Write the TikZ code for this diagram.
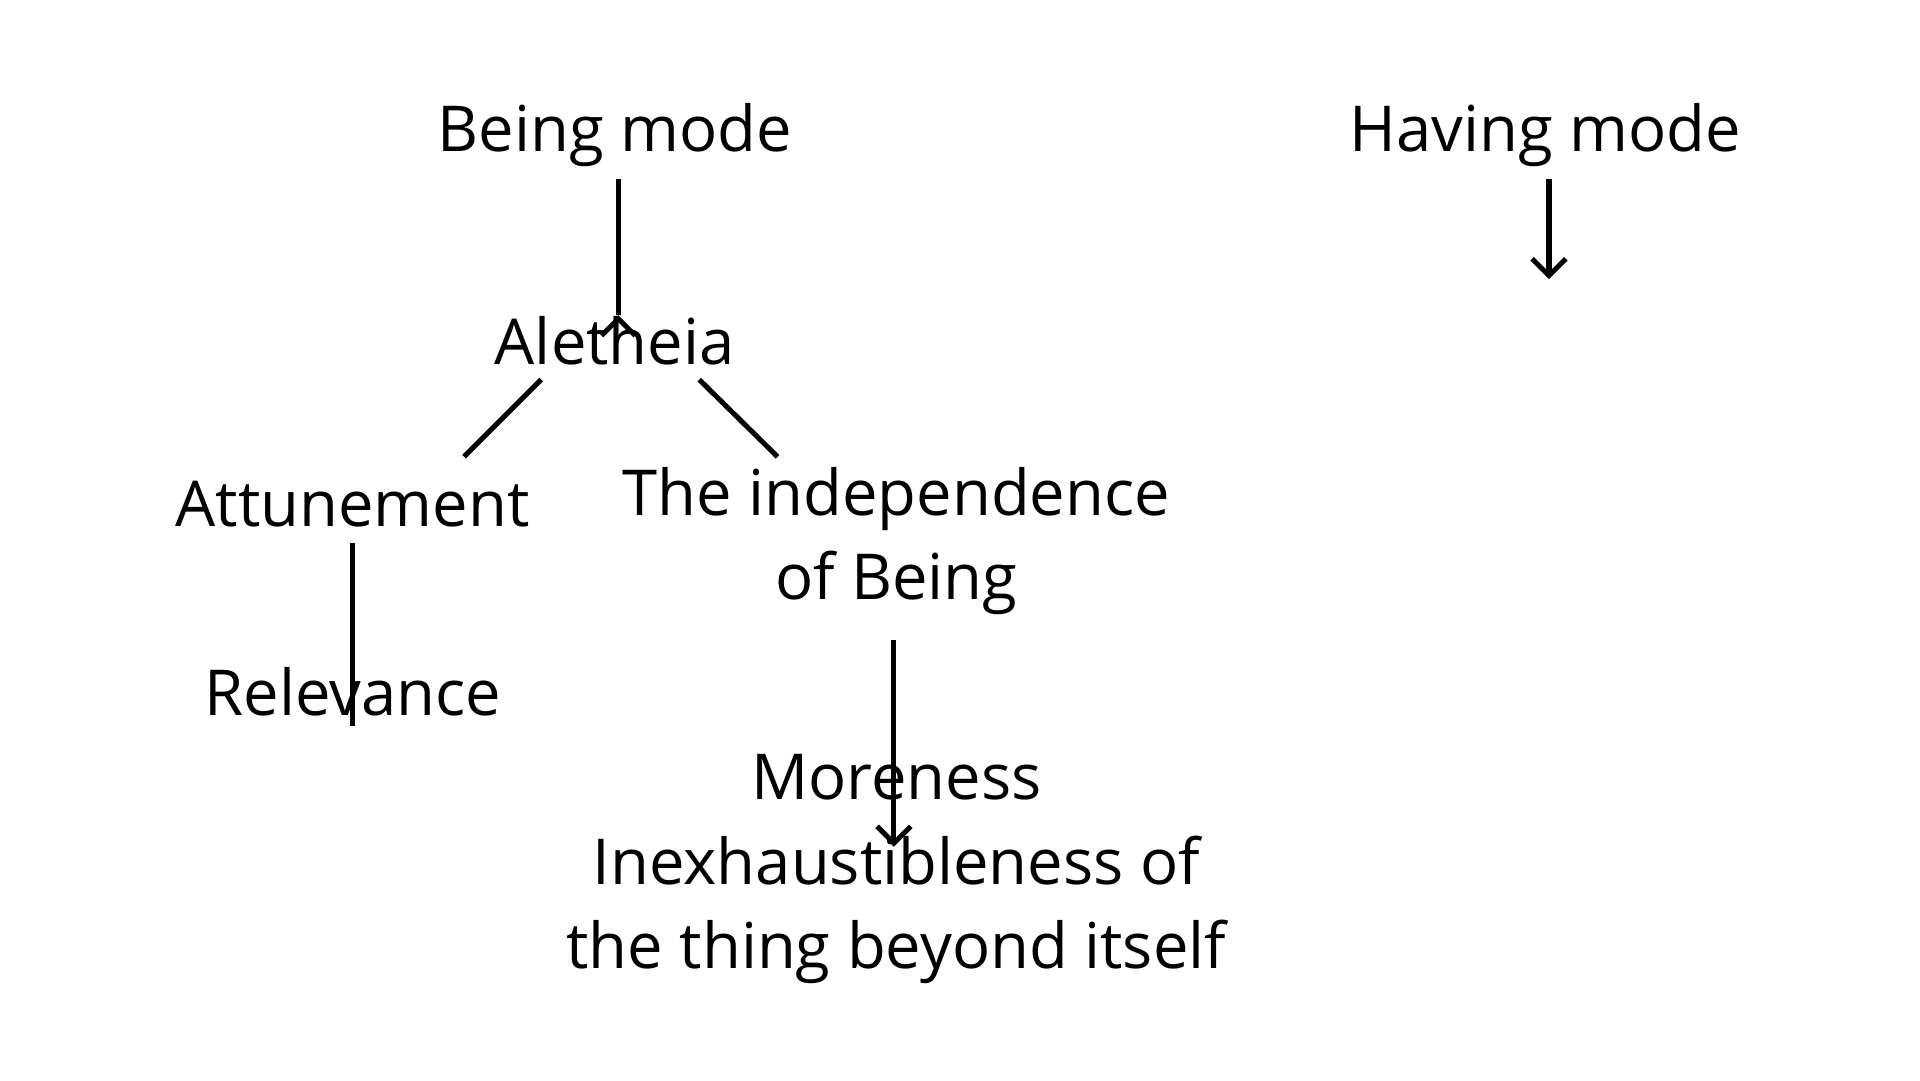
\documentclass[tikz,border=0pt]{standalone}
\usepackage{fontspec}
\setmainfont{Open Sans}
\usetikzlibrary{arrows.meta}
\tikzset{
  lbl/.style={font=\fontsize{15}{20}\selectfont, align=center, inner sep=0pt},
  link/.style={line width=1.2pt},
  down/.style={line width=1.2pt, -{Straight Barb[length=4pt,width=8pt]}}
}
\begin{document}
\begin{tikzpicture}[x=0.0102cm, y=-0.0102cm]
    \useasboundingbox (0,0) rectangle (1568,882);
    \node (being) [lbl] at (502,110) {Being mode};
    \node (having) [lbl] at (1262,110) {Having mode};
    \node (aletheia) [lbl] at (502,278) {Aletheia};
    \node (attune) [lbl] at (288,412) {Attunement};
    \node (indep) [lbl] at (732,442) {The independence\\of Being};
    \node (relev) [lbl] at (288,565) {Relevance};
    \node (more) [lbl] at (732,710) {Moreness\\Inexhaustibleness of\\the thing beyond itself};
    \coordinate (havingend) at (1265,228);
    \coordinate (a1) at (442,310);
    \coordinate (a2) at (379,373);
    \coordinate (b1) at (571,310);
    \coordinate (b2) at (635,373);

    \draw [down] (being.south -| 505,0) ++(0,10) -- (aletheia.north -| 505,0) -- ++(0,0);
    \draw [down] (having.south -| havingend) ++(0,10) -- (havingend);
    \draw [link] (a1) -- (a2);
    \draw [link] (b1) -- (b2);
    \draw [link] (attune.south) ++(0,12) -- ([yshift=-14]relev.north);
    \draw [down] (indep.south -| 730,0) ++(0,20) -- ([yshift=-22]more.north -| 730,0);
\end{tikzpicture}
\end{document}
